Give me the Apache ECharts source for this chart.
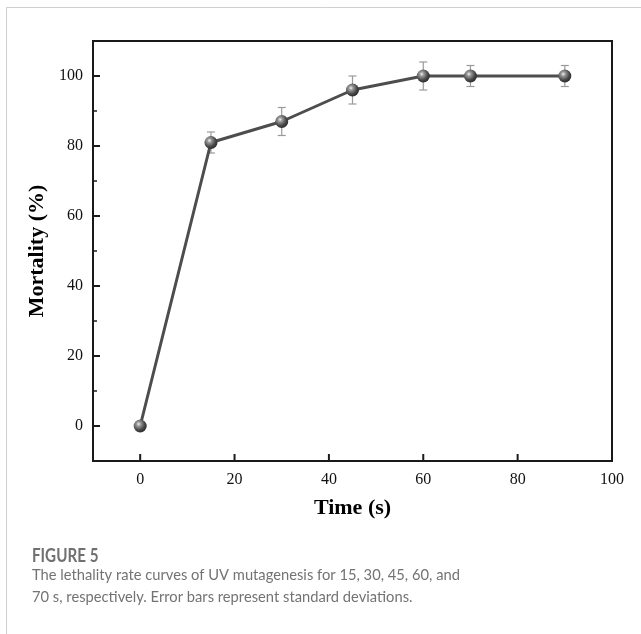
<!DOCTYPE html>
<html lang="en">
  <head>
    <meta charset="UTF-8" />
    <title>Figure 5</title>
    <style>
      html,
      body {
        margin: 0;
        padding: 0;
        background: #fff;
      }
      #main {
        width: 641px;
        height: 634px;
      }
    </style>
  </head>
  <body>
    <div id="main"></div>
    <script src="https://cdn.jsdelivr.net/npm/echarts@6/dist/echarts.min.js"></script>
    <script>
      // data
      const times = [0, 15, 30, 45, 60, 70, 90];
      const mortality = [0, 81, 87, 96, 100, 100, 100];
      const errors = [0, 3, 4, 4, 4, 3, 3];
      const xTicks = [0, 20, 40, 60, 80, 100];
      const yTicks = [0, 20, 40, 60, 80, 100];
      const yMinorTicks = [10, 30, 50, 70, 90];

      const xMin = -10, xMax = 100;
      const yMin = -10, yMax = 110;

      const serif = "Liberation Serif";
      const sans = "Lato";
      const ink = "#1a1a1a";

      const chart = echarts.init(document.getElementById("main"));

      // sphere look for the markers
      const sphere = {
        type: "radial",
        x: 0.38,
        y: 0.35,
        r: 0.65,
        colorStops: [
          { offset: 0, color: "#f2f2f2" },
          { offset: 0.25, color: "#9a9a9a" },
          { offset: 0.7, color: "#4a4a4a" },
          { offset: 1, color: "#2e2e2e" },
        ],
      };

      const lineData = times.map((t, i) => [t, mortality[i]]);
      const errData = times
        .map((t, i) => [t, mortality[i] - errors[i], mortality[i] + errors[i]])
        .filter((d) => d[2] > d[1]);

      // inside ticks: [which axis (0 = x, 1 = y), value, length]
      const tickData = []
        .concat(xTicks.map((v) => [0, v, 7]))
        .concat(yTicks.map((v) => [1, v, 7]))
        .concat(yMinorTicks.map((v) => [1, v, 4]));

      const option = {
        animation: false,
        grid: { left: 93, right: 29, top: 41, bottom: 173, show: true, borderColor: ink, borderWidth: 2 },
        xAxis: {
          type: "value",
          min: xMin,
          max: xMax,
          name: "Time (s)",
          nameLocation: "middle",
          nameGap: 36,
          nameTextStyle: { fontFamily: serif, fontWeight: "bold", fontSize: 22, color: "#000" },
          axisLine: { onZero: false, lineStyle: { color: ink, width: 2 } },
          axisTick: { show: false },
          axisLabel: { customValues: xTicks, margin: 11, fontFamily: serif, fontSize: 16, color: "#111" },
          splitLine: { show: false },
        },
        yAxis: {
          type: "value",
          min: yMin,
          max: yMax,
          name: "Mortality (%)",
          nameLocation: "middle",
          nameGap: 36,
          nameTextStyle: { fontFamily: serif, fontWeight: "bold", fontSize: 22, color: "#000" },
          axisLine: { onZero: false, lineStyle: { color: ink, width: 2 } },
          axisTick: { show: false },
          axisLabel: { customValues: yTicks, margin: 10, fontFamily: serif, fontSize: 16, color: "#111" },
          splitLine: { show: false },
        },
        series: [
          {
            // axis ticks pointing into the plot
            type: "custom",
            z: 5,
            silent: true,
            clip: false,
            data: tickData,
            renderItem: (params, api) => {
              const kind = api.value(0);
              const v = api.value(1);
              const len = api.value(2);
              const style = { stroke: ink, lineWidth: len > 5 ? 2 : 1.5 };
              if (kind === 0) {
                const p = api.coord([v, yMin]);
                return { type: "line", shape: { x1: p[0], y1: p[1], x2: p[0], y2: p[1] - len }, style };
              }
              const p = api.coord([xMin, v]);
              return { type: "line", shape: { x1: p[0], y1: p[1], x2: p[0] + len, y2: p[1] }, style };
            },
          },
          {
            type: "custom",
            z: 1,
            data: errData,
            renderItem: (params, api) => {
              const x = api.value(0);
              const lo = api.coord([x, api.value(1)]);
              const hi = api.coord([x, api.value(2)]);
              const cap = 4;
              const style = { stroke: "#9a9a9a", lineWidth: 1.2 };
              return {
                type: "group",
                children: [
                  { type: "line", shape: { x1: lo[0], y1: lo[1], x2: hi[0], y2: hi[1] }, style },
                  { type: "line", shape: { x1: lo[0] - cap, y1: lo[1], x2: lo[0] + cap, y2: lo[1] }, style },
                  { type: "line", shape: { x1: hi[0] - cap, y1: hi[1], x2: hi[0] + cap, y2: hi[1] }, style },
                ],
              };
            },
          },
          {
            type: "line",
            z: 3,
            data: lineData,
            symbol: "circle",
            symbolSize: 13,
            lineStyle: { color: "#4d4d4d", width: 3 },
            itemStyle: { color: sphere, borderWidth: 0 },
          },
        ],
        graphic: [
          // light frame of the figure panel
          { type: "line", shape: { x1: 6.5, y1: 7.5, x2: 6.5, y2: 634 }, style: { stroke: "#cfcfcf", lineWidth: 1 } },
          { type: "line", shape: { x1: 6.5, y1: 7.5, x2: 641, y2: 7.5 }, style: { stroke: "#cfcfcf", lineWidth: 1 } },
          {
            type: "text",
            x: 32,
            y: 546,
            scaleX: 0.8,
            style: { text: "FIGURE 5", fontFamily: sans, fontSize: 19, fontWeight: "bold", fill: "#707070" },
          },
          {
            type: "text",
            x: 32,
            y: 564,
            scaleX: 0.92,
            style: {
              text: "The lethality rate curves of UV mutagenesis for 15, 30, 45, 60, and\n70 s, respectively. Error bars represent standard deviations.",
              fontFamily: sans,
              fontSize: 16,
              lineHeight: 22,
              fill: "#737373",
            },
          },
        ],
      };

      chart.setOption(option);
    </script>
  </body>
</html>
